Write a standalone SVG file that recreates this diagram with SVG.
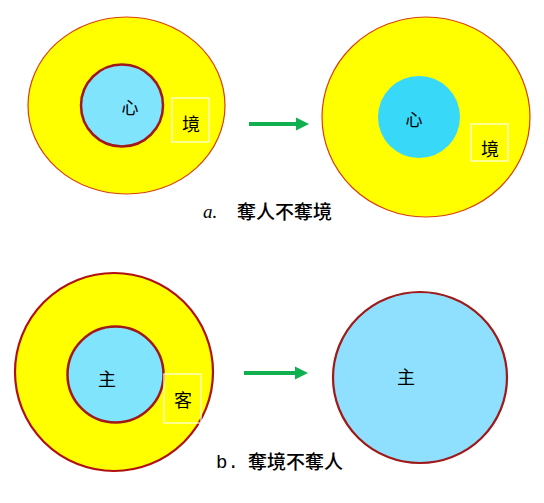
<svg xmlns="http://www.w3.org/2000/svg" width="544" height="503" viewBox="0 0 544 503">
<defs>
<style>
.outer{fill:#ffff00;stroke:#d84010;stroke-width:1.2}
.outer2{fill:#ffff00;stroke:#b01010;stroke-width:2.2}
.inner{fill:#80e4fc;stroke:#a01818;stroke-width:2.5}
.box{fill:none;stroke:#fffff0;stroke-width:1.2}
.t{font-family:"Noto Sans CJK TC","Noto Sans CJK SC",sans-serif;fill:#000;text-anchor:middle;dominant-baseline:central}
.lbl{font-family:"Noto Sans CJK TC","Noto Sans CJK SC",sans-serif;font-size:19px;font-weight:500;fill:#000}
.arr{stroke:#10b050;stroke-width:4;fill:none}
.ah{fill:#10b050}
</style>
</defs>
<rect width="544" height="503" fill="#fff"/>
<g id="a-left">
<ellipse class="outer" cx="126.5" cy="105.5" rx="98.5" ry="88.5"/>
<circle class="inner" cx="122" cy="105.5" r="41"/>
<text class="t" x="130" y="106" font-size="17">心</text>
<rect class="box" x="172" y="98" width="37" height="44"/>
<text class="t" x="191" y="123" font-size="18">境</text>
</g>
<g id="a-right">
<ellipse class="outer" cx="426" cy="117" rx="104" ry="100"/>
<circle cx="419" cy="117" r="41" fill="#38d8f8"/>
<text class="t" x="414" y="118" font-size="17">心</text>
<rect class="box" x="471" y="124" width="37" height="37"/>
<text class="t" x="490" y="148" font-size="18">境</text>
</g>
<g id="b-left">
<circle class="outer2" cx="114" cy="372" r="99"/>
<circle class="inner" cx="115.5" cy="374.5" r="48"/>
<text class="t" x="107" y="378" font-size="18">主</text>
<rect class="box" x="164" y="374" width="37" height="49"/>
<text class="t" x="183" y="399" font-size="18">客</text>
</g>
<g id="b-right">
<ellipse cx="420" cy="377.5" rx="87" ry="85.5" fill="#8ee0fe" stroke="#a01818" stroke-width="2.2"/>
<text class="t" x="406" y="376" font-size="18">主</text>
</g>
<g id="connectors">
<line class="arr" x1="249" y1="124" x2="298" y2="124"/>
<polygon class="ah" points="296,117.5 309,124 296,130.5"/>
<line class="arr" x1="244" y1="373" x2="297" y2="373"/>
<polygon class="ah" points="295,366.5 308,373 295,379.5"/>
</g>
<g id="labels">
<text x="203" y="218" font-family="Liberation Serif,serif" font-style="italic" font-size="19">a.</text>
<text class="lbl" x="237" y="219">奪人不奪境</text>
<text x="216" y="468" font-family="Liberation Mono,monospace" font-size="19">b.</text>
<text class="lbl" x="248" y="469">奪境不奪人</text>
</g>
</svg>
